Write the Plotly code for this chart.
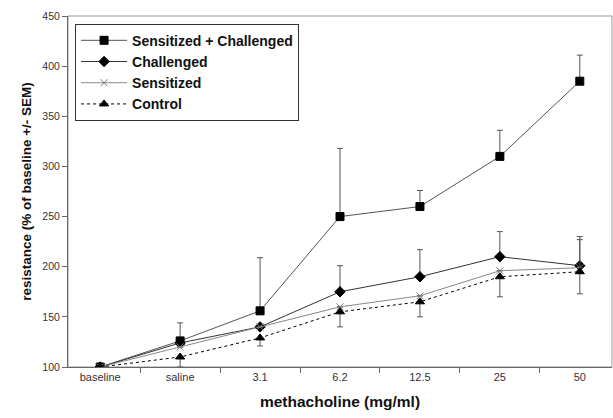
import plotly.graph_objects as go

categories = ["baseline", "saline", "3.1", "6.2", "12.5", "25", "50"]

sc_vals = [100, 126, 156, 250, 260, 310, 385]
sc_err_up = [0, 18, 53, 68, 16, 26, 26]

ch_vals = [100, 124, 140, 175, 190, 210, 201]
ch_err_up = [0, 0, 0, 26, 27, 25, 29]

se_vals = [100, 120, 140, 160, 171, 196, 199]
se_err_up = [0, 0, 0, 0, 0, 0, 28]

co_vals = [100, 110, 129, 155, 165, 190, 195]
co_err_dn = [0, 10, 8, 15, 15, 20, 22]

zeros = [0] * 7

fig = go.Figure()

def add(name, vals, up, dn, symbol, lcolor, mcolor, dash, msize):
    fig.add_trace(go.Scatter(
        x=categories, y=vals, name="<b>" + name + "</b>", mode="lines+markers",
        line=dict(color=lcolor, width=1, dash=dash),
        marker=dict(symbol=symbol, color=mcolor, size=msize,
                    line=dict(color=mcolor, width=1)),
        error_y=dict(type="data", symmetric=False, array=up, arrayminus=dn,
                     color="#555555", thickness=1, width=3),
    ))

add("Sensitized + Challenged", sc_vals, sc_err_up, zeros, "square", "#555555", "#000000", "solid", 8)
add("Challenged", ch_vals, ch_err_up, zeros, "diamond", "#333333", "#000000", "solid", 8)
add("Sensitized", se_vals, se_err_up, zeros, "x-thin", "#888888", "#777777", "solid", 7)
add("Control", co_vals, zeros, co_err_dn, "triangle-up", "#000000", "#000000", "dot", 8)

fig.update_layout(
    width=613, height=418,
    margin=dict(l=68, r=1, t=16, b=51),
    paper_bgcolor="white", plot_bgcolor="white",
    font=dict(family="Liberation Sans, Arial, sans-serif", color="#222222"),
    showlegend=True,
    legend=dict(x=0.013, y=0.978, xanchor="left", yanchor="top",
                bordercolor="#333333", borderwidth=1, bgcolor="white",
                font=dict(size=14, family="Liberation Sans, Arial, sans-serif", color="#111111"),
                tracegroupgap=0, itemwidth=46),
)

fig.update_xaxes(
    type="category", categoryorder="array", categoryarray=categories,
    showline=True, linecolor="#666666", linewidth=1, mirror=False,
    ticks="outside", tickson="boundaries", ticklen=5, tickcolor="#666666",
    tickfont=dict(size=11, color="#333333"),
    showgrid=False, zeroline=False,
    title=dict(text="<b>methacholine (mg/ml)</b>", font=dict(size=15.5, color="#111111"), standoff=13),
)
fig.update_yaxes(
    range=[100, 450], dtick=50,
    showline=True, linecolor="#666666", linewidth=1,
    ticks="outside", ticklen=5, tickcolor="#666666",
    tickfont=dict(size=10.5, color="#333333"),
    showgrid=False, zeroline=False,
    title=dict(text="<b>resistance (% of baseline +/- SEM)</b>", font=dict(size=13.5, color="#111111"), standoff=7),
)

# plot-area border (top and right)
fig.add_shape(type="rect", xref="paper", yref="paper", x0=0, y0=0, x1=1, y1=1,
              line=dict(color="#999999", width=1), layer="below")

fig.write_html("out.html")
